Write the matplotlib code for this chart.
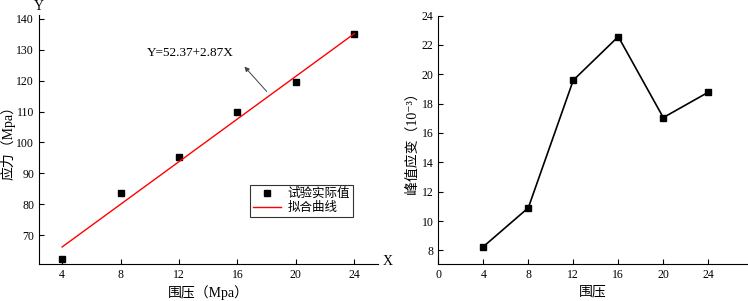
import numpy as np
import matplotlib
matplotlib.use('Agg')
import matplotlib.pyplot as plt

plt.rcParams['font.family'] = ['Liberation Serif', 'Noto Sans CJK SC', 'DejaVu Serif']
plt.rcParams['axes.unicode_minus'] = False

# left panel: stress vs confining pressure
pressure = [4, 8, 12, 16, 20, 24]
stress = [62.4, 83.8, 95.3, 109.8, 119.6, 135.0]
fit_x = [4, 24]
fit_y = [66.2, 135.2]

# right panel: peak strain vs confining pressure
peak_strain = [8.25, 10.9, 19.6, 22.57, 17.05, 18.78]

fig = plt.figure(figsize=(7.48, 3.01), dpi=100)
ax1 = fig.add_axes([0.052, 0.122, 0.453, 0.827])
ax2 = fig.add_axes([0.586, 0.122, 0.412, 0.826])

for ax in (ax1, ax2):
    ax.spines['top'].set_visible(False)
    ax.spines['right'].set_visible(False)
    ax.tick_params(direction='in', labelsize=8.5, length=3.5, width=0.8)

ax1.plot(pressure, stress, 's', color='black', markersize=5, label='试验实际值')
ax1.plot(fit_x, fit_y, color='red', lw=1, label='拟合曲线')
ax1.set_xlim(2.41, 25.6)
ax1.set_ylim(60.6, 141.1)
ax1.set_xticks([4, 8, 12, 16, 20, 24])
ax1.set_yticks([70, 80, 90, 100, 110, 120, 130, 140])
ax1.set_xlabel('围压（Mpa）', fontsize=10, labelpad=3)
ax1.set_ylabel('应力（Mpa）', fontsize=10)
ax1.yaxis.set_label_coords(-0.068, 0.5)
ax1.text(1.016, 0.01, 'X', transform=ax1.transAxes, fontsize=10, va='center', ha='left')
ax1.text(0.0, 1.035, 'Y', transform=ax1.transAxes, fontsize=10, va='center', ha='center')
ax1.annotate('', xy=(16.35, 125.2), xytext=(18.13, 115.8),
             arrowprops=dict(arrowstyle='-|>', color='#444444', lw=0.7, mutation_scale=7))
ax1.text(12.8, 129.0, 'Y=52.37+2.87X', fontsize=9.5, ha='center', va='center')
leg = ax1.legend(loc='upper left', bbox_to_anchor=(0.623, 0.319), fontsize=9,
                 frameon=True, fancybox=False, edgecolor='black', handlelength=2.2,
                 borderpad=0.25, labelspacing=0.15, handletextpad=0.55, borderaxespad=0)
leg.get_frame().set_linewidth(0.8)

ax2.plot(pressure, peak_strain, '-s', color='black', lw=1.2, markersize=5)
ax2.set_xlim(0, 27.4)
ax2.set_ylim(7.05, 24)
ax2.set_xticks([0, 4, 8, 12, 16, 20, 24])
ax2.set_yticks([8, 10, 12, 14, 16, 18, 20, 22, 24])
ax2.set_xlabel('围压', fontsize=10, labelpad=3)
ax2.set_ylabel('峰值应变（10⁻³）', fontsize=10)
ax2.yaxis.set_label_coords(-0.063, 0.5)

fig.savefig('out.png', dpi=100)
